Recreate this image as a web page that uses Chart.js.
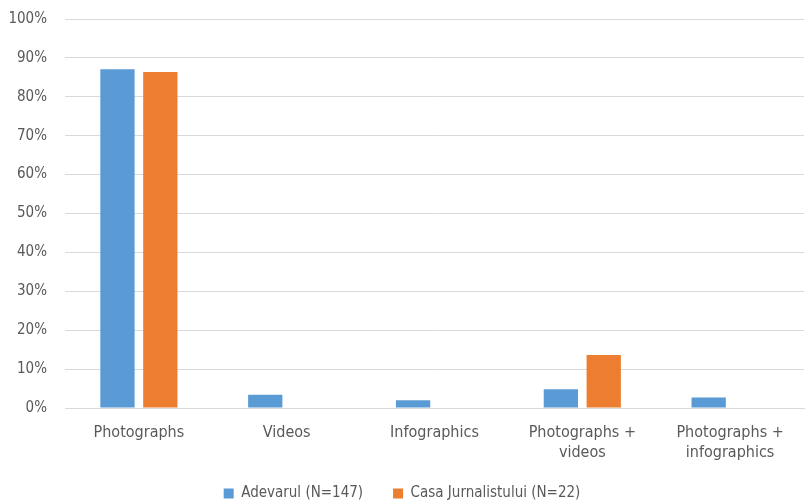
<!DOCTYPE html>
<html>
<head>
<meta charset="utf-8">
<script src="https://cdn.jsdelivr.net/npm/chart.js@4/dist/chart.umd.min.js"></script>
<style>
  html, body { margin: 0; padding: 0; background: #fff; }
  #wrap { width: 805px; height: 504px; }
</style>
</head>
<body>
<div id="wrap"><canvas id="chart" width="805" height="504"></canvas></div>
<script>
const categories = ['Photographs', 'Videos', 'Infographics', ['Photographs +', 'videos'], ['Photographs +', 'infographics']];
const adevarul = [87.1, 3.4, 2.0, 4.8, 2.7];
const casaJurnalistului = [86.4, 0, 0, 13.6, 0];
const seriesLabels = ['Adevarul (N=147)', 'Casa Jurnalistului (N=22)'];

const FONT = "'Liberation Sans Narrow', 'DejaVu Sans Condensed', sans-serif";
const TEXT = '#595959';
const GRID = '#d9d9d9';
const LEGEND_HEIGHT = 48;
const X_AXIS_HEIGHT = 48;

// keep wide gaps between legend items without the legend eating the plot height
const legendHeight = {
    id: 'legendHeight',
    beforeLayout(chart) {
        const lg = chart.legend;
        if (!lg || lg._fixedHeight) return;
        const fit = lg.fit.bind(lg);
        lg.fit = function () { fit(); this.height = LEGEND_HEIGHT; };
        lg._fixedHeight = true;
    },
};

new Chart(document.getElementById('chart'), {
    type: 'bar',
    data: {
        labels: categories,
        datasets: [
            { label: seriesLabels[0], data: adevarul, backgroundColor: '#5b9bd5' },
            { label: seriesLabels[1], data: casaJurnalistului, backgroundColor: '#ed7d31' },
        ],
    },
    plugins: [legendHeight],
    options: {
        responsive: false,
        animation: false,
        layout: { padding: { top: 19, right: 1, bottom: 0, left: 0 } },
        categoryPercentage: 0.58,
        barPercentage: 0.8,
        plugins: {
            tooltip: { enabled: false },
            legend: {
                position: 'bottom',
                labels: { boxWidth: 10, boxHeight: 10, padding: 30, color: TEXT, font: { family: FONT, size: 15 } },
            },
        },
        scales: {
            x: {
                afterFit: (scale) => {
                    scale.height = X_AXIS_HEIGHT;
                    // two-line labels run past the shortened box, so don't clip them
                    scale._computeLabelArea = () => undefined;
                },
                grid: { display: false },
                border: { display: true, color: GRID },
                ticks: { color: TEXT, padding: 6, font: { family: FONT, size: 16, lineHeight: 1.3 }, maxRotation: 0, autoSkip: false },
            },
            y: {
                min: 0,
                max: 100,
                afterFit: (scale) => { scale.width = 65; scale.paddingTop = 0; scale.paddingBottom = 0; },
                border: { display: false },
                grid: { color: GRID, drawTicks: false },
                ticks: { stepSize: 10, padding: 18, color: TEXT, font: { family: FONT, size: 15 }, callback: (v) => v + '%' },
            },
        },
    },
});
</script>
</body>
</html>
